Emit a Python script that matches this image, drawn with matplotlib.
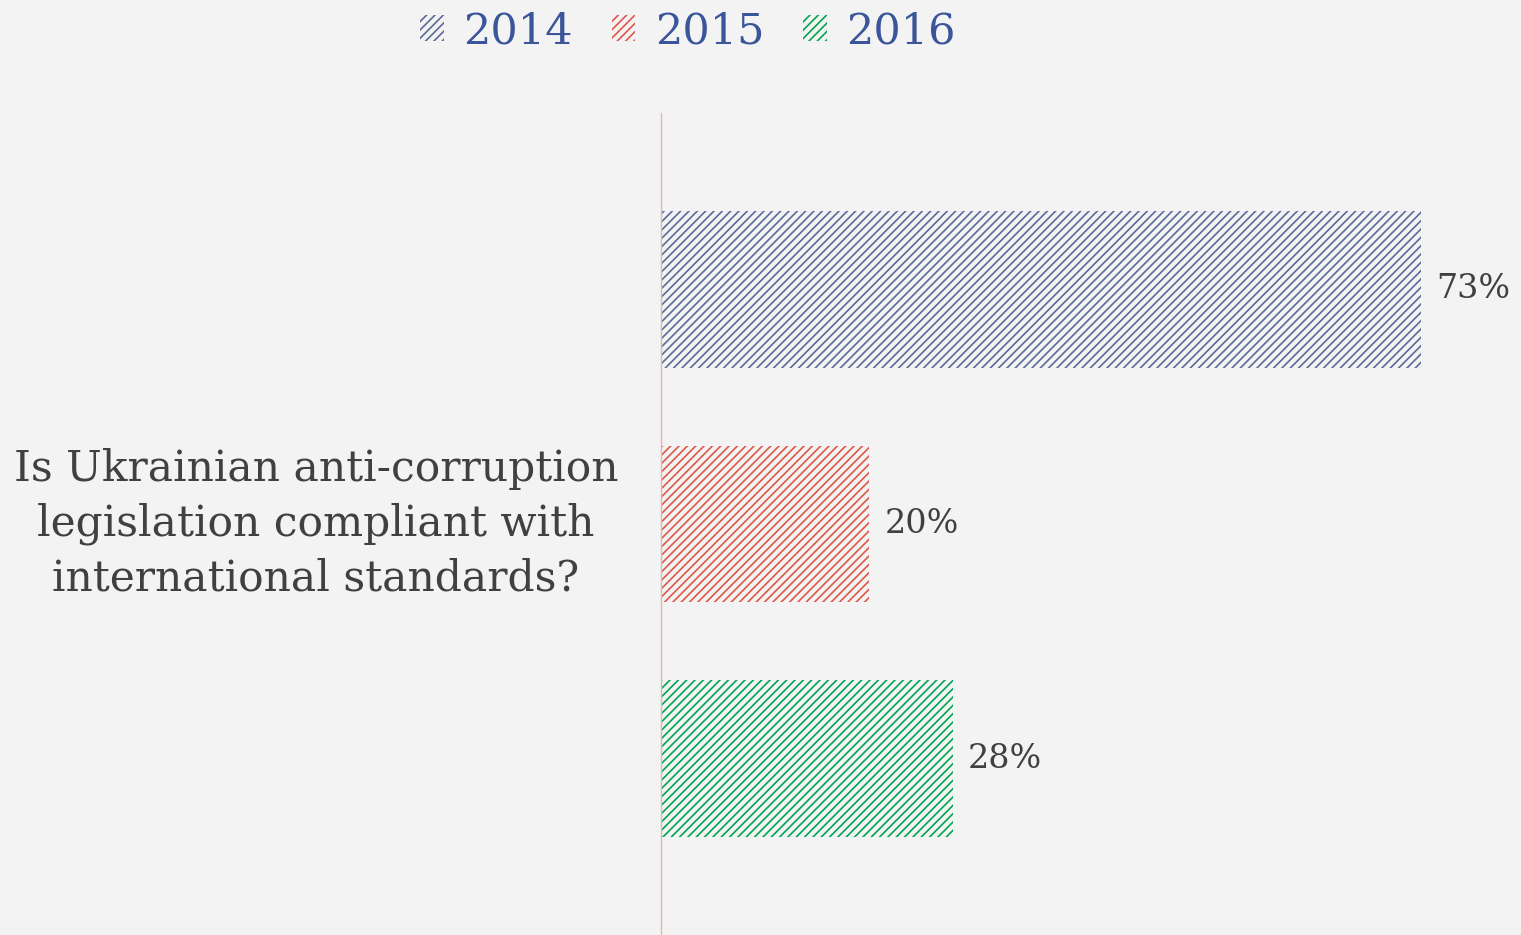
import matplotlib.pyplot as plt
from matplotlib.patches import Patch

# data
question = "Is Ukrainian anti-corruption\nlegislation compliant with\ninternational standards?"
years = ["2014", "2015", "2016"]
values = [73, 20, 28]
colors = ["#5b6b9c", "#e0574c", "#00a650"]

bg = "#f3f3f3"
plt.rcParams["hatch.linewidth"] = 1.2
plt.rcParams["font.family"] = ["DejaVu Serif"]

fig = plt.figure(figsize=(15.21, 9.35), dpi=100, facecolor=bg)
ax = fig.add_axes([661 / 1521, 0, 860 / 1521, 822 / 935], facecolor=bg)

pos = list(range(len(years)))
for i in pos:
    ax.barh(i, values[i], height=0.668, color=bg, edgecolor=colors[i],
            hatch="////", linewidth=0)
    ax.text(values[i] + 1.5, i, f"{values[i]}%", va="center", ha="left",
            fontsize=24, color="#404040")

ax.set_xlim(0, 82.6)
ax.set_ylim(2.75, -0.75)
ax.set_xticks([])
ax.set_yticks([])
for s in ["top", "right", "bottom"]:
    ax.spines[s].set_visible(False)
ax.spines["left"].set_color("#dcb8ae")
ax.spines["left"].set_linewidth(1)

fig.text(316 / 1521, 1 - 524 / 935, question, ha="center", va="center",
         fontsize=30.5, color="#404040", linespacing=1.38)

handles = [Patch(facecolor=bg, edgecolor=c, hatch="////", linewidth=0) for c in colors]
leg = fig.legend(handles, years, loc="upper center", bbox_to_anchor=(688 / 1521, 1.03),
                 ncol=3, frameon=False, fontsize=31, handlelength=0.55, handleheight=0.55,
                 handletextpad=0.45, columnspacing=0.9)
for t in leg.get_texts():
    t.set_color("#3a5599")

fig.savefig("out.png", dpi=100, facecolor=bg)
